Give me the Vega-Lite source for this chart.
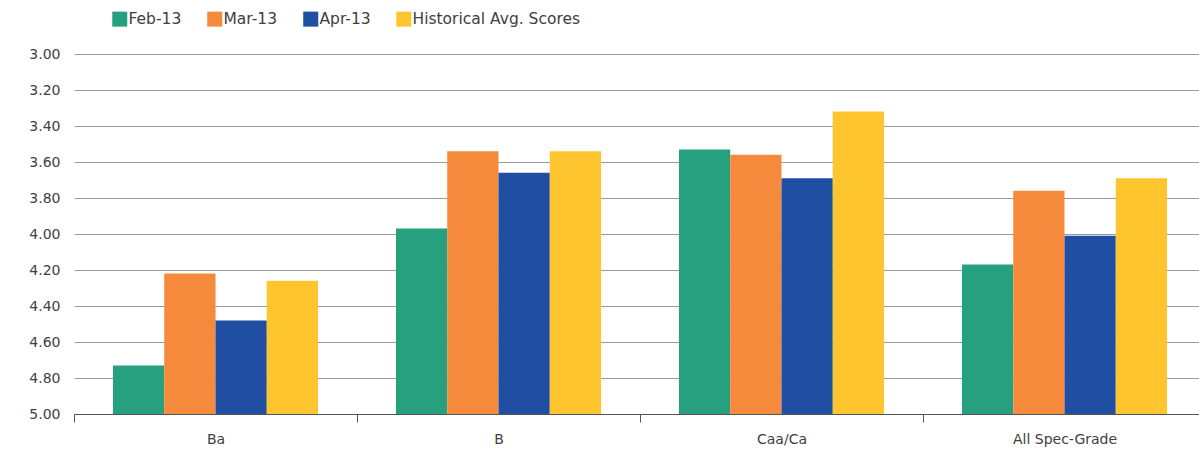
{
  "$schema": "https://vega.github.io/schema/vega-lite/v6.json",
  "width": 1132,
  "height": 360,
  "autosize": "none",
  "padding": {"left": 74, "top": 54, "right": 0, "bottom": 37},
  "background": "white",
  "config": {"view": {"stroke": null}, "font": "DejaVu Sans"},
  "data": {
    "values": [
      {"grade": "Ba", "series": "Feb-13", "score": 4.73},
      {"grade": "Ba", "series": "Mar-13", "score": 4.22},
      {"grade": "Ba", "series": "Apr-13", "score": 4.48},
      {"grade": "Ba", "series": "Historical Avg. Scores", "score": 4.26},
      {"grade": "B", "series": "Feb-13", "score": 3.97},
      {"grade": "B", "series": "Mar-13", "score": 3.54},
      {"grade": "B", "series": "Apr-13", "score": 3.66},
      {"grade": "B", "series": "Historical Avg. Scores", "score": 3.54},
      {"grade": "Caa/Ca", "series": "Feb-13", "score": 3.53},
      {"grade": "Caa/Ca", "series": "Mar-13", "score": 3.56},
      {"grade": "Caa/Ca", "series": "Apr-13", "score": 3.69},
      {"grade": "Caa/Ca", "series": "Historical Avg. Scores", "score": 3.32},
      {"grade": "All Spec-Grade", "series": "Feb-13", "score": 4.17},
      {"grade": "All Spec-Grade", "series": "Mar-13", "score": 3.76},
      {"grade": "All Spec-Grade", "series": "Apr-13", "score": 4.01},
      {"grade": "All Spec-Grade", "series": "Historical Avg. Scores", "score": 3.69}
    ]
  },
  "mark": {"type": "bar"},
  "encoding": {
    "x": {
      "field": "grade",
      "type": "nominal",
      "sort": ["Ba", "B", "Caa/Ca", "All Spec-Grade"],
      "scale": {"paddingInner": 0, "paddingOuter": 0},
      "axis": {
        "title": null,
        "labelAngle": 0,
        "labelFontSize": 14,
        "labelColor": "#404040",
        "labelPadding": 10,
        "tickBand": "extent",
        "tickSize": 8,
        "tickColor": "#555555",
        "domainColor": "#555555",
        "grid": false
      }
    },
    "xOffset": {
      "field": "series",
      "type": "nominal",
      "sort": ["Feb-13", "Mar-13", "Apr-13", "Historical Avg. Scores"],
      "scale": {"paddingInner": 0, "paddingOuter": 0.76}
    },
    "y": {
      "field": "score",
      "type": "quantitative",
      "scale": {"domain": [3, 5], "reverse": true, "zero": false},
      "axis": {
        "title": null,
        "values": [3, 3.2, 3.4, 3.6, 3.8, 4, 4.2, 4.4, 4.6, 4.8, 5],
        "format": ".2f",
        "labelFontSize": 14,
        "labelColor": "#404040",
        "labelPadding": 14,
        "ticks": false,
        "domain": false,
        "gridColor": "#9a9a9a",
        "gridWidth": 1
      }
    },
    "y2": {"datum": 5},
    "color": {
      "field": "series",
      "type": "nominal",
      "sort": ["Feb-13", "Mar-13", "Apr-13", "Historical Avg. Scores"],
      "scale": {
        "domain": ["Feb-13", "Mar-13", "Apr-13", "Historical Avg. Scores"],
        "range": ["#26A07F", "#F58A3C", "#1F4EA3", "#FFC52E"]
      },
      "legend": {
        "title": null,
        "orient": "none",
        "direction": "horizontal",
        "legendX": 38,
        "legendY": -43,
        "symbolType": "square",
        "symbolSize": 225,
        "symbolStrokeWidth": 0,
        "labelFontSize": 15.5,
        "labelLimit": 400,
        "labelColor": "#404040",
        "labelOffset": 1,
        "columnPadding": 25
      }
    }
  }
}
